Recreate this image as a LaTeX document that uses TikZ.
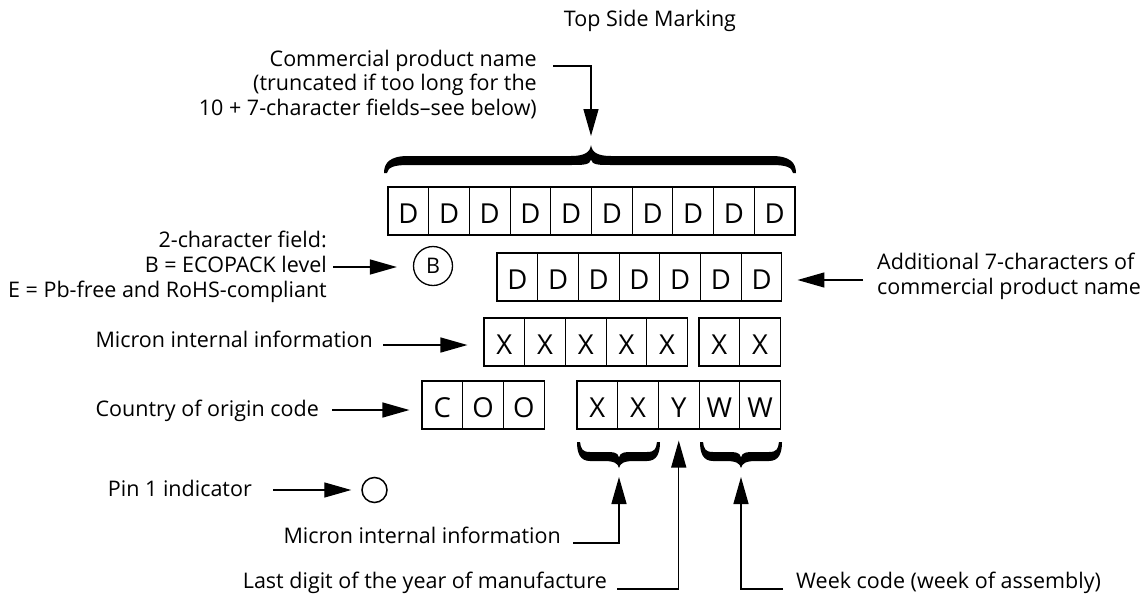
\documentclass[tikz,border=0pt]{standalone}
\usepackage{fontspec}
\setmainfont{Open Sans}
\usetikzlibrary{arrows.meta}
% calligraphic brace: x1, x2, xm, yend, ynear, yfar, ytip, hook, centre
\newcommand\calbrace[9]{%
 \fill (#1,#4) .. controls (#1,{#4+(#6-#4)*0.6}) and ({#1+#8*0.25},#6) .. ({#1+#8},#6)
 -- ({#3-#9},#6) .. controls ({#3-#9*0.35},#6) and ({#3-1},{#6+(#7-#6)*0.3}) .. (#3,#7)
 .. controls ({#3+1},{#6+(#7-#6)*0.3}) and ({#3+#9*0.35},#6) .. ({#3+#9},#6)
 -- ({#2-#8},#6) .. controls ({#2-#8*0.25},#6) and (#2,{#4+(#6-#4)*0.6}) .. (#2,#4)
 -- ({#2-3},#4) .. controls ({#2-4},{#4+(#5-#4)*0.7}) and ({#2-#8*0.4},#5) .. ({#2-#8},#5)
 -- ({#3+#9},#5) .. controls ({#3+#9*0.4},#5) and ({#3+1},#5) .. (#3,{#5+(#6-#5)*0.6})
 .. controls ({#3-1},#5) and ({#3-#9*0.4},#5) .. ({#3-#9},#5)
 -- ({#1+#8},#5) .. controls ({#1+#8*0.4},#5) and ({#1+4},{#4+(#5-#4)*0.7}) .. ({#1+3},#4) -- cycle;}
\begin{document}
\begin{tikzpicture}[x=1pt,y=-1pt,
  font=\fontsize{21.5}{25}\selectfont,
  cell/.style={draw, line width=1.1pt, minimum width=40.7pt, minimum height=48pt, inner sep=0pt,
     text height=25pt, text depth=0pt, font=\fontsize{27.5}{28}\selectfont},
  arr/.style={line width=1.4pt, -{Triangle[length=27pt,width=15pt]}},
  lbl/.style={inner sep=0pt}]
\useasboundingbox (0,0) rectangle (1143,597);

% title
\node[lbl, anchor=base] (title) at (650,27) {Top Side Marking};

% row 1: 10 x D
\foreach \i in {1,...,10} \node[cell] (a\i) at ({388+(\i-0.5)*40.7},211) {D};
% row 2: 7 x D
\foreach \i in {1,...,7} \node[cell] (b\i) at ({497+(\i-0.5)*40.7},277) {D};
% row 3: 5 x X, 2 x X
\foreach \i in {1,...,5} \node[cell] (c\i) at ({484+(\i-0.5)*40.7},342) {X};
\foreach \i in {1,2} \node[cell] (d\i) at ({699+(\i-0.5)*40.7},342) {X};
% row 4
\foreach \t [count=\i] in {C,O,O} \node[cell] (e\i) at ({422+(\i-0.5)*40.7},405) {\t};
\foreach \t [count=\i] in {X,X,Y,W,W} \node[cell] (f\i) at ({577+(\i-0.5)*40.7},405) {\t};

% circles
\node[draw, circle, line width=1.3pt, minimum size=39pt, inner sep=0pt] (bc) at (433,266) {B};
\node[draw, circle, line width=1.5pt, minimum size=25pt, inner sep=0pt] (pin) at (374.5,490) {};

% braces
\calbrace{384}{796}{591}{173}{165}{156}{145}{24}{20}
\calbrace{577}{660}{619}{442}{452}{461}{468}{13}{15}
\calbrace{700}{782}{741}{442}{452}{461}{468}{13}{15}

% labels
\node[lbl, anchor=base east] (cpn1) at (537,66) {Commercial product name};
\node[lbl, anchor=base east] (cpn2) at (537,90.5) {(truncated if too long for the};
\node[lbl, anchor=base east] (cpn3) at (537,115) {10 + 7-character fields–see below)};
\node[lbl, anchor=base east] (two1) at (327,247) {2-character field:};
\node[lbl, anchor=base east] (two2) at (327,272) {B = ECOPACK level};
\node[lbl, anchor=base east] (two3) at (327,297) {E = Pb-free and RoHS-compliant};
\node[lbl, anchor=base west] (add1) at (877,269) {Additional 7-characters of};
\node[lbl, anchor=base west] (add2) at (877,294) {commercial product name};
\node[lbl, anchor=base east] (mii) at (373,347) {Micron internal information};
\node[lbl, anchor=base east] (coo) at (319,416) {Country of origin code};
\node[lbl, anchor=base east] (pinl) at (252,496) {Pin 1 indicator};
\node[lbl, anchor=base east] (mii2) at (561,543) {Micron internal information};
\node[lbl, anchor=base east] (year) at (607,588) {Last digit of the year of manufacture};
\node[lbl, anchor=base west] (week) at (796,588) {Week code (week of assembly)};

% connectors
\coordinate (t1) at (553,66);
\coordinate (t2) at (591,145);
\draw[arr, shorten >=9pt] (t1) -| (t2);
\coordinate (s1) at (333,267);
\draw[arr, shorten >=16pt] (s1) -- (s1 -| bc.west);
\coordinate (s2) at (863,280);
\draw[arr, shorten >=15pt] (s2) -- (s2 -| b7.east);
\coordinate (s3) at (383,345);
\draw[arr, shorten >=16pt] (s3) -- (s3 -| c1.west);
\coordinate (s4) at (332,410);
\draw[arr, shorten >=12pt] (s4) -- (s4 -| e1.west);
\coordinate (s5) at (273,490);
\draw[arr, shorten >=10pt] (s5) -- (s5 -| pin.west);
\coordinate (u1) at (573,543);
\coordinate (u1t) at (619,468);
\draw[arr, shorten >=9pt] (u1) -| (u1t);
\coordinate (u2) at (617,589);
\draw[arr, shorten >=11pt] (u2) -| (f3.south);
\coordinate (u3) at (783,589);
\coordinate (u3t) at (741,468);
\draw[arr, shorten >=9pt] (u3) -| (u3t);
\end{tikzpicture}
\end{document}
